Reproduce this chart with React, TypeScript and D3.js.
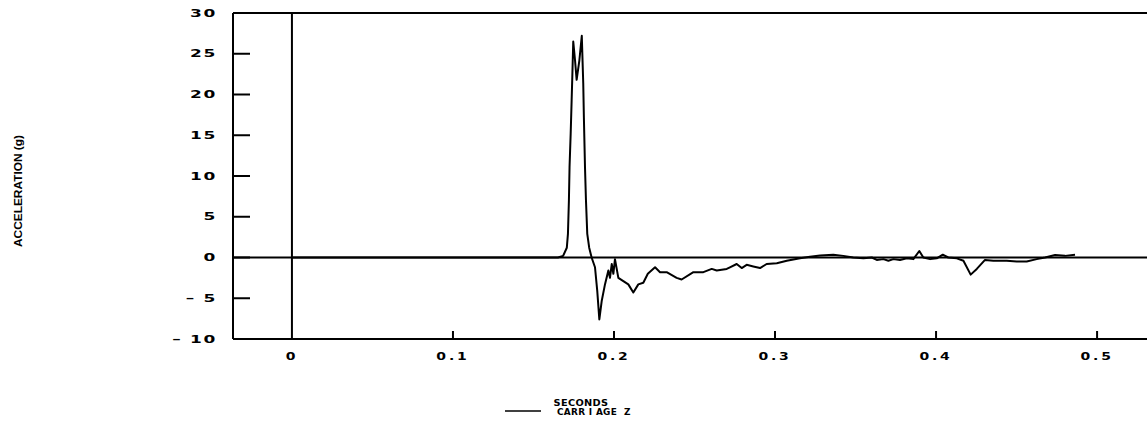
import React from "react";
import * as d3 from "d3";

const times = [0, 0.1652, 0.1684, 0.1707, 0.1714, 0.1720, 0.1724, 0.1731, 0.1737, 0.1741, 0.1747, 0.1758, 0.1768, 0.1785, 0.18, 0.1809, 0.1813, 0.182, 0.1826, 0.1834, 0.1846, 0.1861, 0.1882, 0.1896, 0.1909, 0.1924, 0.1944, 0.1965, 0.1975, 0.1986, 0.1996, 0.2006, 0.2027, 0.2058, 0.2089, 0.212, 0.2151, 0.2182, 0.221, 0.2255, 0.2286, 0.2327, 0.2389, 0.242, 0.2493, 0.2555, 0.2607, 0.2638, 0.27, 0.272, 0.2762, 0.2793, 0.2824, 0.2865, 0.2907, 0.2948, 0.3011, 0.3073, 0.3155, 0.3217, 0.328, 0.3362, 0.3424, 0.3486, 0.3549, 0.3601, 0.3632, 0.3673, 0.3704, 0.3735, 0.3776, 0.3818, 0.3859, 0.3896, 0.3921, 0.3963, 0.4004, 0.4042, 0.4076, 0.4129, 0.417, 0.4215, 0.4253, 0.4304, 0.4356, 0.4439, 0.4501, 0.4563, 0.4625, 0.4677, 0.4739, 0.4801, 0.4863];
const accel = [0, 0, 0.2, 1.2, 2.9, 7, 11.1, 15.2, 19.3, 22.1, 26.5, 24.2, 21.8, 24.2, 27.2, 21.4, 17.2, 11, 7, 2.9, 1.2, 0, -1.2, -4.1, -7.6, -5.3, -3.3, -1.6, -2.5, -0.8, -2.0, -0.2, -2.5, -2.9, -3.3, -4.3, -3.3, -3.1, -2.0, -1.2, -1.8, -1.8, -2.5, -2.7, -1.8, -1.8, -1.4, -1.6, -1.4, -1.2, -0.8, -1.3, -0.9, -1.1, -1.3, -0.8, -0.7, -0.4, -0.1, 0.1, 0.25, 0.35, 0.2, 0, -0.1, 0, -0.3, -0.2, -0.4, -0.2, -0.3, -0.1, -0.2, 0.8, 0, -0.2, -0.1, 0.35, 0, -0.1, -0.4, -2.1, -1.4, -0.3, -0.4, -0.4, -0.5, -0.5, -0.2, 0, 0.3, 0.2, 0.35];

const yTicks = [30, 25, 20, 15, 10, 5, 0, -5, -10];
const yTickLabels = ["30", "25", "20", "15", "10", "5", "0", "\u2013 5", "\u2013 10"];
const xTicks = [0, 0.1, 0.2, 0.3, 0.4, 0.5];
const xTickLabels = ["0", "0.1", "0.2", "0.3", "0.4", "0.5"];
const yLabel = "ACCELERATION (g)";
const xLabel = "SECONDS";
const seriesName = "CARR I AGE  Z";

const W = 1147;
const H = 422;

const FONT = "'DejaVu Sans', sans-serif";

function Wide({ x, y, anchor, sx, size, spacing, children }: any) {
  return (
    <g transform={`translate(${x},${y}) scale(${sx},1)`}>
      <text
        x={0}
        y={0}
        textAnchor={anchor}
        fontFamily={FONT}
        fontWeight="bold"
        fontSize={size}
        letterSpacing={spacing}
        fill="#000"
        style={{ whiteSpace: "pre" }}
      >
        {children}
      </text>
    </g>
  );
}

export default function App() {
  const x = d3.scaleLinear().domain([-0.0366, 0.531]).range([233, 1147]);
  const y = d3.scaleLinear().domain([-10, 30]).range([339, 13]);
  const left = x(-0.0366);
  const right = x(0.531);
  const top = y(30);
  const bottom = y(-10);
  const data = times.map((t, i) => [t, accel[i]] as [number, number]);
  const line = d3
    .line<[number, number]>()
    .x((d) => x(d[0]))
    .y((d) => y(d[1]));

  return (
    <svg
      width={W}
      height={H}
      style={{ position: "absolute", left: 0, top: 0, background: "#fff" }}
    >
      <rect x={0} y={0} width={W} height={H} fill="#fff" />
      <line x1={left} x2={left} y1={top} y2={bottom} stroke="#000" strokeWidth={2} />
      <line x1={left} x2={right} y1={top} y2={top} stroke="#000" strokeWidth={2} />
      <line x1={left} x2={right} y1={bottom} y2={bottom} stroke="#000" strokeWidth={2} />
      <line x1={x(0)} x2={x(0)} y1={top} y2={bottom} stroke="#000" strokeWidth={2} />
      <line x1={left} x2={right} y1={y(0)} y2={y(0)} stroke="#000" strokeWidth={2} />
      {yTicks.map((v, i) => (
        <g key={"yt" + v}>
          {v !== 30 && v !== -10 && (
            <line x1={left} x2={left + 17} y1={y(v)} y2={y(v)} stroke="#000" strokeWidth={2} />
          )}
          <Wide x={217} y={y(v) + 3.6} anchor="end" sx={1.7} size={10} spacing={1}>
            {yTickLabels[i]}
          </Wide>
        </g>
      ))}
      {xTicks.map((t, i) => (
        <g key={"xt" + t}>
          {t !== 0 && (
            <line x1={x(t)} x2={x(t)} y1={bottom} y2={bottom - 8} stroke="#000" strokeWidth={2} />
          )}
          <Wide x={x(t)} y={360} anchor="middle" sx={1.4} size={10} spacing={2}>
            {xTickLabels[i]}
          </Wide>
        </g>
      ))}
      <path d={line(data) || ""} fill="none" stroke="#000" strokeWidth={2} strokeLinejoin="round" />
      <text
        transform={`translate(22, 191) rotate(-90)`}
        textAnchor="middle"
        fontFamily="'Liberation Sans', sans-serif"
        fontWeight="bold"
        fontSize={11}
        textLength={112}
        lengthAdjust="spacingAndGlyphs"
        fill="#000"
      >
        {yLabel}
      </text>
      <Wide x={581} y={406} anchor="middle" sx={1.15} size={8.5} spacing={0.3}>
        {xLabel}
      </Wide>
      <line x1={505} x2={541} y1={411} y2={411} stroke="#000" strokeWidth={1.5} />
      <Wide x={557} y={415} anchor="start" sx={1.05} size={8.5} spacing={0.3}>
        {seriesName}
      </Wide>
    </svg>
  );
}
